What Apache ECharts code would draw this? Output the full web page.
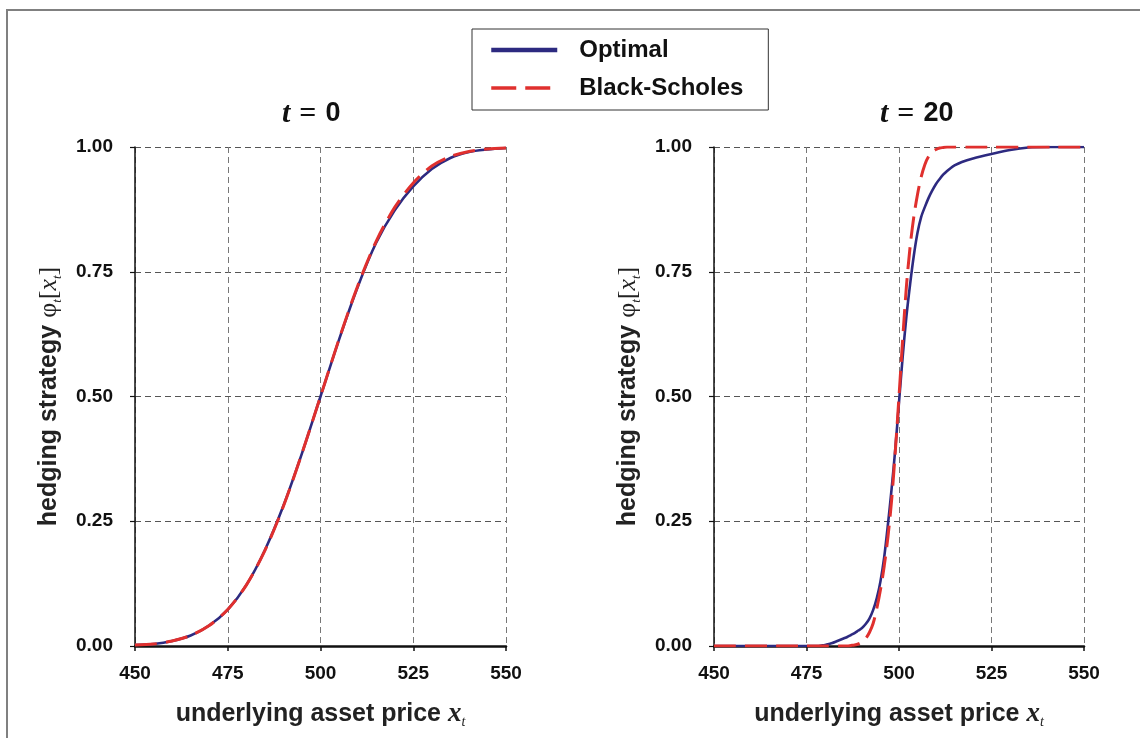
<!DOCTYPE html>
<html>
<head>
<meta charset="utf-8">
<script src="https://cdn.jsdelivr.net/npm/echarts@6/dist/echarts.min.js"></script>
<style>
html,body{margin:0;padding:0;background:#fff;}
#chart{width:1140px;height:738px;}
</style>
</head>
<body>
<div id="chart"></div>
<script>
// ---- data ----
var seriesNames = ['Optimal', 'Black-Scholes'];
var panelTitles = ['0', '20'];
var xTicks = [450, 475, 500, 525, 550];
var yTicks = [0, 0.25, 0.5, 0.75, 1.0];

// t = 0 panel
var xT0 = [450,455,460,465,470,475,480,485,490,495,500,505,510,515,520,525,530,535,540,545,550];
var optimalT0 = [0.002,0.004,0.010,0.021,0.041,0.073,0.122,0.192,0.281,0.386,0.500,0.614,0.719,0.808,0.873,0.921,0.956,0.978,0.990,0.995,0.998];
var bsT0      = [0.002,0.004,0.010,0.021,0.041,0.073,0.122,0.191,0.280,0.386,0.500,0.615,0.721,0.811,0.879,0.928,0.962,0.981,0.991,0.996,0.998];

// t = 20 panel
var xOptT20 = [450,460,470,478,479,480,481,482,483,484,485,486,487,488,489,490,491,492,493,494,495,496,497,498,499,500,501,502,503,504,505,506,507,508,509,510,511,512,513,514,515,517,520,525,530,535,540,550];
var optimalT20 = [0,0,0,0,0.001,0.002,0.004,0.006,0.009,0.012,0.015,0.018,0.022,0.026,0.031,0.036,0.044,0.055,0.072,0.096,0.130,0.178,0.243,0.315,0.395,0.488,0.580,0.660,0.725,0.782,0.828,0.860,0.880,0.898,0.913,0.926,0.936,0.945,0.952,0.958,0.963,0.970,0.977,0.986,0.994,0.999,1.0,1.0];
var xBsT20 = [450,470,480,486,487,488,489,490,491,492,493,494,495,496,497,498,499,500,501,502,503,504,505,506,507,508,509,510,511,512,513,520,550];
var bsT20 = [0,0,0,0,0.001,0.002,0.004,0.008,0.015,0.027,0.045,0.075,0.113,0.160,0.218,0.292,0.390,0.500,0.615,0.720,0.800,0.860,0.905,0.940,0.965,0.981,0.990,0.995,0.998,0.999,1.0,1.0,1.0];

function pairs(xs, ys){ return xs.map(function(x,i){ return [x, ys[i]]; }); }

var SANS = '"Liberation Sans", Arial, sans-serif';
var SERIF = '"Liberation Serif", "Times New Roman", serif';
var BLUE = '#2d2a80';
var RED = '#e0302e';

var grids = [
  {left: 135, top: 147, width: 371, height: 499},
  {left: 714, top: 147, width: 370, height: 499}
];

function xAxis(idx){
  return {
    type: 'value', gridIndex: idx, min: 450, max: 550, interval: 25,
    name: '{a|underlying asset price }{i|x}{s|t}',
    nameLocation: 'middle', nameGap: 53,
    nameTextStyle: {
      rich: {
        a: {fontFamily: SANS, fontWeight: 'bold', fontSize: 25, color: '#222', lineHeight: 30},
        i: {fontFamily: SERIF, fontStyle: 'italic', fontWeight: 'bold', fontSize: 27, color: '#222', lineHeight: 30},
        s: {fontFamily: SERIF, fontStyle: 'italic', fontSize: 14, color: '#222', lineHeight: 30, verticalAlign: 'bottom', padding: [9,0,0,0]}
      }
    },
    axisLine: {show: true, onZero: false, lineStyle: {color: '#111', width: 2.5}},
    axisTick: {show: true, length: 5, lineStyle: {color: '#111', width: 1.5}},
    axisLabel: {margin: 18, fontFamily: SANS, fontWeight: 'bold', fontSize: 19, color: '#111',
      formatter: function(v){ return xTicks.indexOf(v) >= 0 ? String(v) : ''; }},
    splitLine: {show: true, lineStyle: {color: '#777', type: [6,4], width: 1}}
  };
}
function yAxis(idx){
  return {
    type: 'value', gridIndex: idx, min: 0, max: 1, interval: 0.25,
    name: '{a|hedging strategy }{p|φ}{s|t}{b|[}{i|x}{s|t}{b|]}',
    nameLocation: 'middle', nameGap: 71, nameRotate: 90,
    nameTextStyle: {
      rich: {
        a: {fontFamily: SANS, fontWeight: 'bold', fontSize: 25, color: '#222', lineHeight: 30},
        p: {fontFamily: SERIF, fontSize: 26, color: '#222', lineHeight: 30},
        b: {fontFamily: SERIF, fontSize: 26, color: '#222', lineHeight: 30},
        i: {fontFamily: SERIF, fontStyle: 'italic', fontSize: 26, color: '#222', lineHeight: 30},
        s: {fontFamily: SERIF, fontStyle: 'italic', fontSize: 13, color: '#222', lineHeight: 30, verticalAlign: 'bottom', padding: [9,0,0,0]}
      }
    },
    axisLine: {show: true, onZero: false, lineStyle: {color: '#111', width: 1.5}},
    axisTick: {show: true, length: 5, lineStyle: {color: '#111', width: 1.2}},
    axisLabel: {margin: 22, fontFamily: SANS, fontWeight: 'bold', fontSize: 19, color: '#111',
      formatter: function(v){ return v.toFixed(2); }},
    splitLine: {show: true, lineStyle: {color: '#555', type: [6,4], width: 1}}
  };
}

function lineSeries(name, idx, data, isBs, smooth){
  return {
    name: name, type: 'line', xAxisIndex: idx, yAxisIndex: idx,
    data: data, symbol: 'none', showSymbol: false,
    smooth: smooth,
    z: isBs ? 4 : 3,
    lineStyle: isBs ? {color: RED, width: 3, type: [22, 9]} : {color: BLUE, width: 2.6},
    itemStyle: {color: isBs ? RED : BLUE},
    animation: false
  };
}

function titleFor(i, lx){
  return {
    text: '{t|t}{e|=}{n|' + panelTitles[i] + '}',
    left: lx, top: 94,
    textStyle: {
      rich: {
        t: {fontFamily: SERIF, fontStyle: 'italic', fontWeight: 'bold', fontSize: 30, color: '#111'},
        e: {fontFamily: SERIF, fontWeight: 'bold', fontSize: 30, color: '#111', padding: [0, 9, 0, 9]},
        n: {fontFamily: SANS, fontWeight: 'bold', fontSize: 27, color: '#111'}
      }
    }
  };
}

var chart = echarts.init(document.getElementById('chart'), null, {renderer: 'canvas'});
chart.setOption({
  backgroundColor: '#fff',
  animation: false,
  title: [titleFor(0, 277), titleFor(1, 875)],
  legend: {
    data: [
      {name: seriesNames[0], lineStyle: {width: 4.5}},
      {name: seriesNames[1], lineStyle: {width: 3.5, type: [25, 9]}}
    ],
    orient: 'vertical',
    left: 472, top: 29,
    padding: [9, 25, 10, 17],
    itemWidth: 66, itemHeight: 20, itemGap: 14,
    itemStyle: {opacity: 0, borderWidth: 0},
    borderColor: '#333', borderWidth: 1,
    textStyle: {fontFamily: SANS, fontWeight: 'bold', fontSize: 24, color: '#111', padding: [0,0,0,17]}
  },
  grid: grids,
  xAxis: [xAxis(0), xAxis(1)],
  yAxis: [yAxis(0), yAxis(1)],
  series: [
    lineSeries(seriesNames[0], 0, pairs(xT0, optimalT0), false, 0.3),
    lineSeries(seriesNames[1], 0, pairs(xT0, bsT0), true, 0.3),
    lineSeries(seriesNames[0], 1, pairs(xOptT20, optimalT20), false, 0.3),
    lineSeries(seriesNames[1], 1, pairs(xBsT20, bsT20), true, 0.3)
  ],
  graphic: [{
    type: 'rect', silent: true, z: -10,
    shape: {x: 7, y: 10, width: 1200, height: 800},
    style: {fill: null, stroke: '#808080', lineWidth: 2}
  }]
});
</script>
</body>
</html>
